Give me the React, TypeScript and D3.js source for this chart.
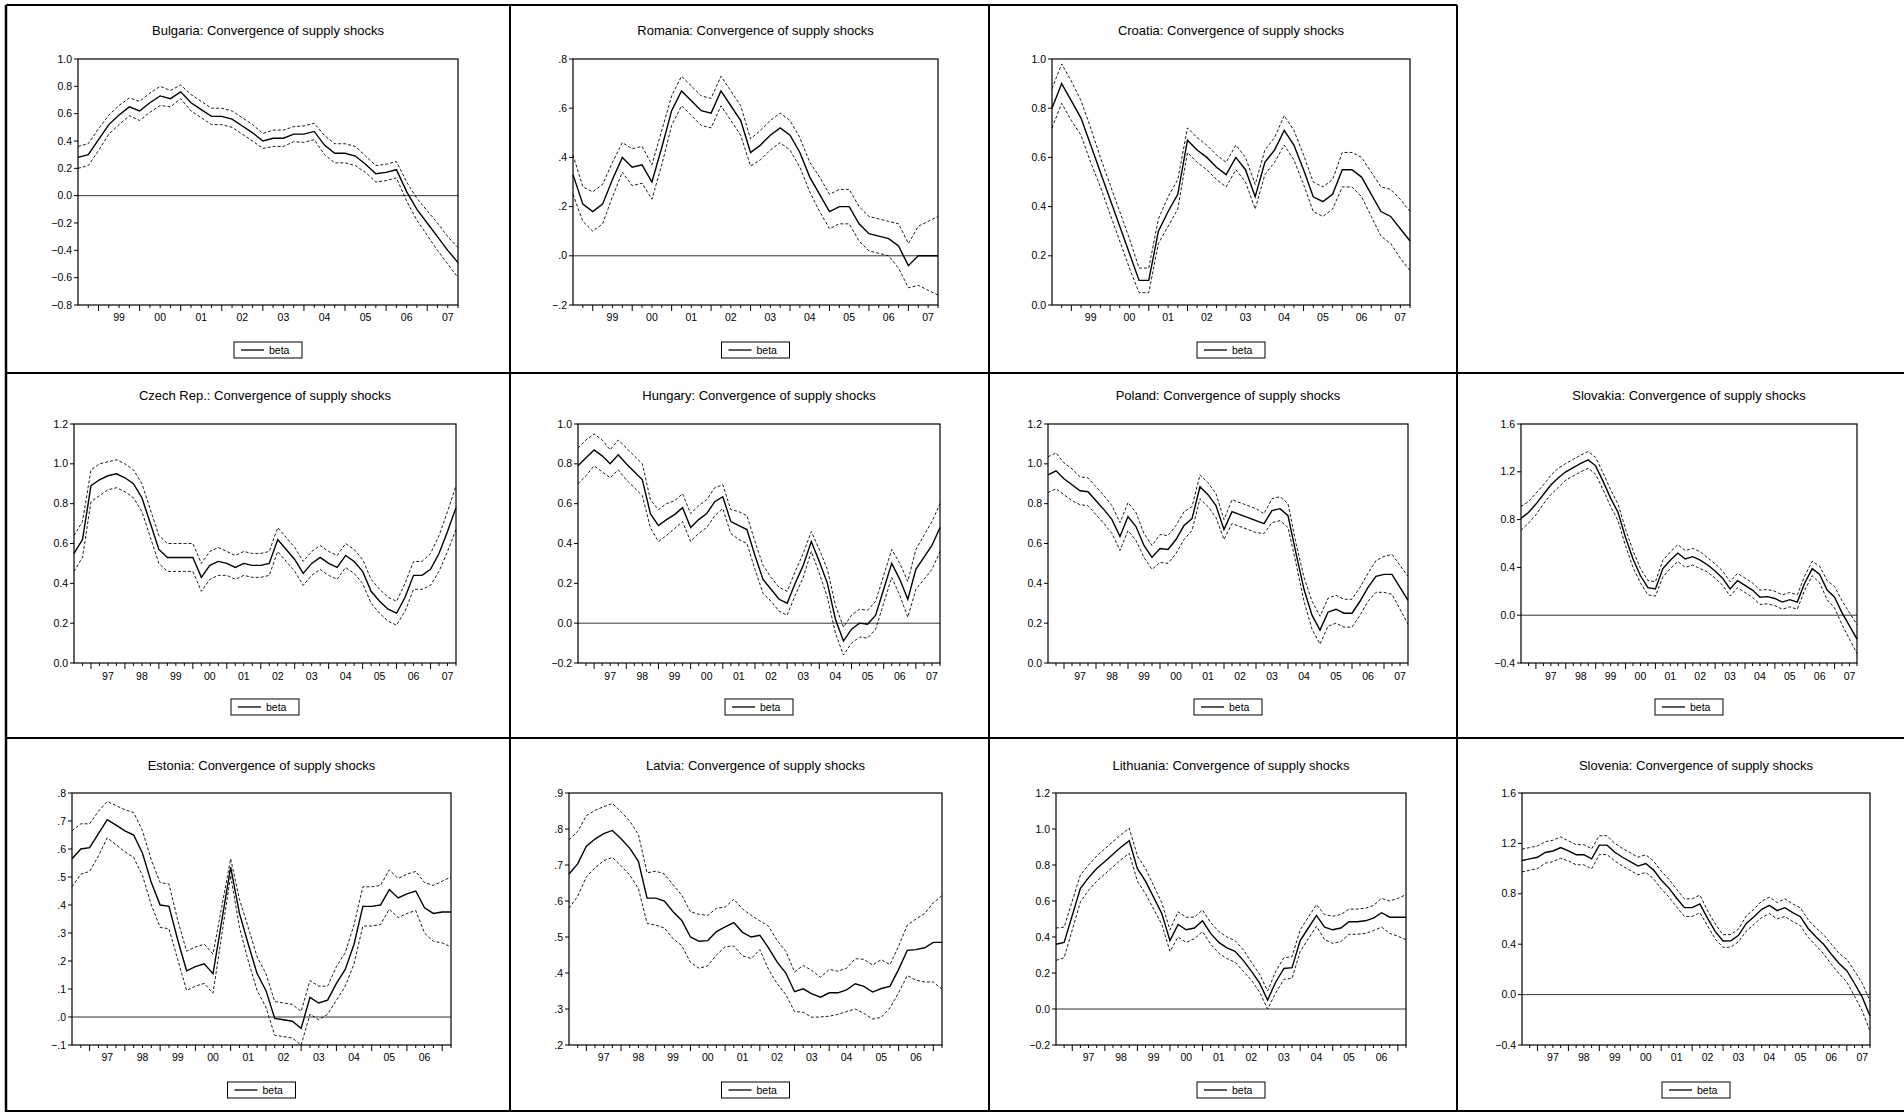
import React from "react";
import * as d3 from "d3";

// ---------- data (quarterly beta estimates and band half-widths) ----------
const bulgariaBeta = [.28,.30,.41,.52,.59,.65,.62,.68,.73,.71,.76,.68,.63,.58,.58,.56,.51,.46,.40,.42,.42,.45,.45,.47,.37,.31,.31,.29,.23,.16,.17,.19,.03,-.10,-.20,-.30,-.40,-.49];
const bulgariaSe = [.08,.08,.08,.07,.07,.065,.07,.07,.07,.06,.05,.06,.06,.06,.06,.06,.06,.06,.055,.06,.06,.055,.06,.06,.07,.07,.07,.07,.06,.06,.06,.06,.07,.08,.09,.10,.10,.11];
const romaniaBeta = [.33,.21,.18,.21,.31,.40,.36,.37,.30,.44,.59,.67,.63,.59,.58,.67,.61,.55,.42,.45,.49,.52,.49,.42,.32,.25,.18,.20,.20,.13,.09,.08,.07,.04,-.04,.00,.00,.00];
const romaniaSe = [.08,.07,.08,.08,.07,.06,.075,.075,.07,.07,.06,.06,.06,.06,.06,.06,.06,.06,.055,.06,.06,.06,.06,.06,.06,.07,.07,.07,.07,.07,.07,.07,.07,.09,.09,.12,.14,.16];
const croatiaBeta = [.80,.90,.83,.76,.65,.54,.43,.32,.21,.10,.10,.30,.38,.45,.67,.63,.60,.56,.53,.60,.55,.44,.58,.63,.71,.65,.55,.44,.42,.45,.55,.55,.52,.45,.38,.36,.31,.26];
const croatiaSe = [.08,.08,.08,.07,.07,.06,.06,.06,.06,.05,.05,.05,.06,.06,.05,.05,.05,.05,.05,.05,.05,.05,.05,.05,.06,.06,.06,.06,.06,.06,.07,.07,.08,.09,.10,.11,.12,.12];
const czechBeta = [.55,.62,.89,.92,.94,.95,.93,.90,.83,.70,.57,.53,.53,.53,.53,.43,.49,.51,.50,.48,.50,.49,.49,.50,.62,.57,.52,.45,.50,.53,.50,.48,.54,.51,.46,.36,.31,.27,.25,.33,.44,.44,.47,.55,.66,.78];
const czechSe = [.09,.09,.08,.08,.07,.07,.07,.07,.07,.07,.07,.07,.07,.07,.07,.07,.07,.07,.06,.06,.06,.06,.06,.06,.06,.06,.06,.06,.06,.06,.06,.06,.06,.06,.06,.06,.06,.06,.06,.07,.07,.07,.08,.09,.10,.11];
const hungaryBeta = [.79,.83,.87,.84,.80,.845,.80,.76,.72,.55,.49,.52,.545,.58,.48,.52,.55,.61,.635,.51,.49,.47,.34,.22,.17,.12,.10,.20,.29,.41,.31,.20,.02,-.09,-.03,.00,-.005,.04,.17,.30,.22,.12,.27,.33,.39,.48];
const hungarySe = [.09,.09,.08,.08,.07,.075,.08,.08,.08,.07,.08,.08,.07,.07,.07,.07,.07,.07,.06,.06,.07,.07,.07,.07,.06,.06,.06,.06,.06,.05,.06,.07,.07,.07,.07,.07,.07,.07,.07,.07,.08,.09,.10,.11,.12,.12];
const polandBeta = [.945,.965,.925,.895,.865,.86,.815,.77,.72,.635,.735,.685,.59,.53,.575,.57,.62,.69,.725,.885,.845,.79,.67,.76,.745,.73,.715,.70,.765,.775,.74,.55,.37,.24,.165,.255,.27,.25,.25,.31,.38,.435,.445,.445,.38,.315];
const polandSe = [.09,.09,.08,.08,.07,.07,.07,.07,.07,.07,.07,.07,.06,.06,.07,.07,.07,.07,.06,.06,.06,.06,.05,.06,.06,.06,.06,.05,.06,.06,.06,.05,.06,.07,.07,.07,.07,.07,.07,.07,.07,.08,.09,.10,.11,.12];
const slovakiaBeta = [.81,.86,.93,1.01,1.09,1.15,1.20,1.235,1.27,1.30,1.25,1.12,.98,.86,.65,.47,.33,.23,.22,.39,.46,.52,.47,.49,.46,.42,.37,.31,.22,.29,.25,.21,.15,.155,.14,.11,.13,.11,.27,.39,.34,.21,.15,.02,-.09,-.20];
const slovakiaSe = [.10,.09,.09,.08,.08,.08,.07,.07,.07,.07,.07,.07,.07,.07,.07,.07,.06,.06,.06,.07,.07,.07,.07,.07,.07,.06,.06,.06,.06,.06,.06,.06,.06,.06,.06,.06,.06,.06,.06,.06,.07,.08,.09,.10,.11,.12];
const estoniaBeta = [.565,.60,.605,.655,.705,.685,.665,.65,.585,.48,.40,.395,.275,.165,.18,.19,.155,.345,.535,.37,.26,.155,.095,-.005,-.01,-.015,-.04,.07,.05,.06,.12,.17,.26,.395,.395,.40,.455,.425,.44,.45,.39,.37,.375,.375];
const estoniaSe = [.10,.09,.085,.08,.065,.07,.075,.08,.08,.08,.08,.08,.07,.07,.07,.07,.07,.05,.03,.05,.06,.06,.06,.06,.06,.06,.06,.06,.06,.05,.06,.06,.07,.07,.07,.07,.07,.07,.07,.07,.09,.10,.11,.125];
const latviaBeta = [.675,.703,.752,.772,.787,.796,.773,.747,.71,.608,.608,.60,.57,.546,.50,.488,.49,.515,.528,.54,.513,.50,.505,.47,.43,.40,.348,.356,.342,.333,.345,.345,.353,.37,.363,.347,.357,.363,.41,.463,.465,.47,.485,.485];
const latviaSe = [.095,.09,.085,.08,.075,.075,.075,.075,.075,.07,.075,.075,.075,.07,.07,.075,.07,.065,.055,.065,.065,.06,.04,.06,.06,.06,.055,.065,.065,.055,.065,.06,.06,.07,.075,.075,.08,.06,.065,.07,.085,.095,.11,.13];
const lithuaniaBeta = [.36,.37,.52,.67,.73,.78,.82,.86,.90,.935,.78,.71,.62,.53,.38,.47,.44,.45,.49,.42,.37,.34,.32,.27,.21,.145,.05,.15,.225,.23,.38,.45,.52,.455,.44,.45,.485,.485,.49,.505,.535,.51,.51,.51];
const lithuaniaSe = [.09,.085,.08,.075,.07,.07,.07,.07,.07,.07,.07,.07,.065,.06,.06,.07,.07,.06,.06,.06,.06,.06,.06,.06,.05,.05,.05,.06,.06,.06,.06,.06,.06,.07,.075,.075,.07,.07,.07,.07,.08,.09,.105,.125];
const sloveniaBeta = [1.064,1.077,1.09,1.128,1.14,1.167,1.14,1.11,1.11,1.077,1.186,1.186,1.13,1.09,1.056,1.02,1.04,.99,.91,.845,.765,.69,.69,.72,.605,.50,.425,.427,.47,.565,.618,.677,.708,.666,.69,.65,.618,.525,.46,.40,.32,.247,.19,.088,-.02,-.17];
const sloveniaSe = [.09,.09,.09,.085,.085,.085,.08,.08,.08,.08,.075,.075,.07,.07,.07,.07,.07,.07,.07,.07,.07,.07,.07,.07,.06,.06,.05,.05,.05,.06,.06,.065,.065,.065,.07,.07,.07,.07,.07,.075,.08,.08,.09,.10,.11,.12];

const titles = ["Bulgaria","Romania","Croatia","Czech Rep.","Hungary","Poland","Slovakia","Estonia","Latvia","Lithuania","Slovenia"];
const titleSuffix = ": Convergence of supply shocks";
const legendLabel = "beta";

// ---------- layout ----------
type Panel = {
  name: string; beta: number[]; se: number[]; t0: number;
  y0: number; y1: number; step: number; dotFmt: boolean;
  left: number; right: number; top: number; bottom: number; labelY: number; titleY: number; legendY: number;
};
const R1 = { top: 59, bottom: 305, labelY: 321, titleY: 35, legendY: 342 };
const R2 = { top: 424, bottom: 663, labelY: 680, titleY: 400, legendY: 699 };
const R3 = { top: 793, bottom: 1045, labelY: 1061, titleY: 770, legendY: 1082 };

const panels: Panel[] = [
  { name: titles[0], beta: bulgariaBeta, se: bulgariaSe, t0: 1998.5, y0: -0.8, y1: 1.0, step: 0.2, dotFmt: false, left: 78, right: 458, ...R1 },
  { name: titles[1], beta: romaniaBeta, se: romaniaSe, t0: 1998.5, y0: -0.2, y1: 0.8, step: 0.2, dotFmt: true, left: 573, right: 938, ...R1 },
  { name: titles[2], beta: croatiaBeta, se: croatiaSe, t0: 1998.5, y0: 0, y1: 1.0, step: 0.2, dotFmt: false, left: 1052, right: 1410, ...R1 },
  { name: titles[3], beta: czechBeta, se: czechSe, t0: 1996.5, y0: 0, y1: 1.2, step: 0.2, dotFmt: false, left: 74, right: 456, ...R2 },
  { name: titles[4], beta: hungaryBeta, se: hungarySe, t0: 1996.5, y0: -0.2, y1: 1.0, step: 0.2, dotFmt: false, left: 578, right: 940, ...R2 },
  { name: titles[5], beta: polandBeta, se: polandSe, t0: 1996.5, y0: 0, y1: 1.2, step: 0.2, dotFmt: false, left: 1048, right: 1408, ...R2 },
  { name: titles[6], beta: slovakiaBeta, se: slovakiaSe, t0: 1996.5, y0: -0.4, y1: 1.6, step: 0.4, dotFmt: false, left: 1521, right: 1857, ...R2 },
  { name: titles[7], beta: estoniaBeta, se: estoniaSe, t0: 1996.5, y0: -0.1, y1: 0.8, step: 0.1, dotFmt: true, left: 72, right: 451, ...R3 },
  { name: titles[8], beta: latviaBeta, se: latviaSe, t0: 1996.5, y0: 0.2, y1: 0.9, step: 0.1, dotFmt: true, left: 569, right: 942, ...R3 },
  { name: titles[9], beta: lithuaniaBeta, se: lithuaniaSe, t0: 1996.5, y0: -0.2, y1: 1.2, step: 0.2, dotFmt: false, left: 1056, right: 1406, ...R3 },
  { name: titles[10], beta: sloveniaBeta, se: sloveniaSe, t0: 1996.5, y0: -0.4, y1: 1.6, step: 0.4, dotFmt: false, left: 1522, right: 1870, ...R3 },
];

const FONT = "'Liberation Sans', Arial, sans-serif";

function fmtTick(v: number, dot: boolean) {
  const s = d3.format(".1f")(Math.abs(v) < 1e-9 ? 0 : v);
  return dot ? s.replace("0.", ".") : s;
}

function PanelChart({ p }: { p: Panel }) {
  const n = p.beta.length;
  const t1 = p.t0 + 0.25 * (n - 1);
  const x = d3.scaleLinear().domain([p.t0, t1]).range([p.left, p.right]);
  const y = d3.scaleLinear().domain([p.y0, p.y1]).range([p.bottom, p.top]);
  const pts = p.beta.map((b, i) => ({ t: p.t0 + 0.25 * i, b, s: p.se[i] }));
  const line = (f: (d: typeof pts[0]) => number) =>
    d3.line<typeof pts[0]>().x(d => x(d.t)).y(d => y(f(d)))(pts) || "";
  const yTicks = d3.range(Math.round((p.y1 - p.y0) / p.step) + 1).map(i => p.y0 + i * p.step);
  const quarters = d3.range(Math.ceil(p.t0 * 4) + 1, Math.floor(t1 * 4) + 1).map(q => q / 4);
  const years = d3.range(Math.ceil(p.t0), Math.floor(t1) + 1).filter(yr => yr + 0.5 <= t1);
  const cx = (p.left + p.right) / 2;
  return (
    <g>
      <text x={cx} y={p.titleY} textAnchor="middle" fontSize={13} fontFamily={FONT}>{p.name + titleSuffix}</text>
      {p.y0 < 0 && p.y1 > 0 && (
        <line x1={p.left} x2={p.right} y1={y(0)} y2={y(0)} stroke="#333" strokeWidth={1} />
      )}
      <path d={line(d => d.b + d.s)} fill="none" stroke="#000" strokeWidth={0.9} strokeDasharray="3,2" />
      <path d={line(d => d.b - d.s)} fill="none" stroke="#000" strokeWidth={0.9} strokeDasharray="3,2" />
      <path d={line(d => d.b)} fill="none" stroke="#000" strokeWidth={1.4} />
      <rect x={p.left} y={p.top} width={p.right - p.left} height={p.bottom - p.top} fill="none" stroke="#000" strokeWidth={1.2} />
      {yTicks.map(v => (
        <g key={v}>
          <line x1={p.left - 4} x2={p.left} y1={y(v)} y2={y(v)} stroke="#000" />
          <text x={p.left - 6} y={y(v) + 3.5} textAnchor="end" fontSize={10.5} fontFamily={FONT}>{fmtTick(v, p.dotFmt)}</text>
        </g>
      ))}
      {quarters.map(q => {
        const major = Math.abs(q - Math.round(q)) < 1e-9;
        return <line key={q} x1={x(q)} x2={x(q)} y1={p.bottom} y2={p.bottom + (major ? 6 : 3)} stroke="#000" />;
      })}
      {years.map(yr => (
        <text key={yr} x={x(yr + 0.5)} y={p.labelY} textAnchor="middle" fontSize={10.5} fontFamily={FONT}>
          {String(yr % 100).padStart(2, "0")}
        </text>
      ))}
      <g transform={`translate(${cx - 34},${p.legendY})`}>
        <rect width={68} height={16} fill="#fff" stroke="#000" strokeWidth={1} />
        <line x1={7} x2={30} y1={8} y2={8} stroke="#000" strokeWidth={1.3} />
        <text x={35} y={12} fontSize={10.5} fontFamily={FONT}>{legendLabel}</text>
      </g>
    </g>
  );
}

export default function App() {
  const W = 1904, H = 1114;
  return (
    <svg width={W} height={H} style={{ position: "absolute", left: 0, top: 0, background: "#fff" }}>
      <rect width={W} height={H} fill="#fff" />
      {/* panel frame */}
      <line x1={6} x2={1457} y1={5} y2={5} stroke="#000" strokeWidth={2} />
      <line x1={6} x2={6} y1={5} y2={1112} stroke="#000" strokeWidth={2.5} />
      {[510, 989, 1457].map(v => <line key={v} x1={v} x2={v} y1={5} y2={1112} stroke="#000" strokeWidth={2} />)}
      {[373, 738].map(v => <line key={v} x1={6} x2={1904} y1={v} y2={v} stroke="#000" strokeWidth={2} />)}
      <line x1={6} x2={1904} y1={1111} y2={1111} stroke="#000" strokeWidth={2} />
      {panels.map(p => <PanelChart key={p.name} p={p} />)}
    </svg>
  );
}
